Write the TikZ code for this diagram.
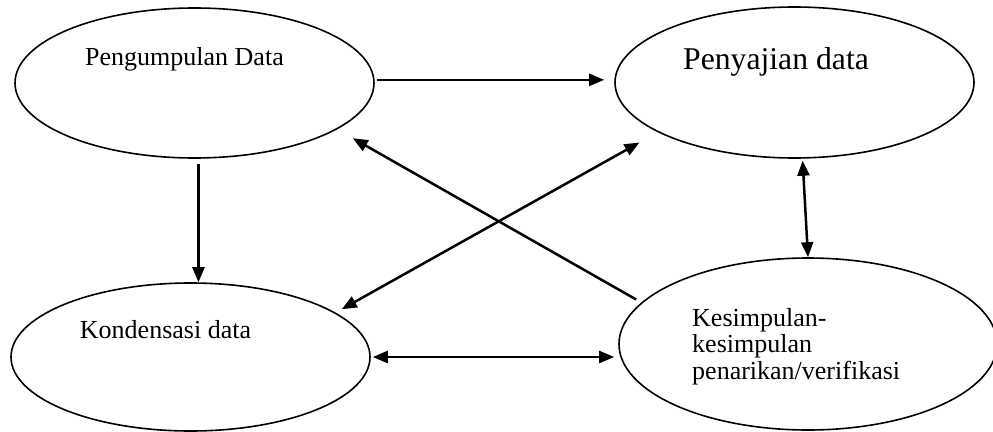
\documentclass[tikz,border=0pt]{standalone}
\usepackage{fontspec}
\setmainfont{Liberation Serif}
\usetikzlibrary{shapes.geometric,arrows.meta,calc}
\begin{document}
\begin{tikzpicture}[x=1pt,y=-1pt,
  bubble/.style={draw,ellipse,line width=1.6pt,inner sep=0pt},
  lbl/.style={inner sep=0pt,font=\fontsize{26}{26.5}\selectfont},
  conn/.style={line width=2.5pt,-{Triangle[length=15pt,width=12pt]}},
  dconn/.style={line width=2.5pt,{Triangle[length=15pt,width=12pt]}-{Triangle[length=15pt,width=12pt]}}]
\useasboundingbox (0,0) rectangle (993,431);
\node[bubble,minimum width=359pt,minimum height=150pt] (tl) at (194.5,83) {};
\node[bubble,minimum width=359pt,minimum height=151pt] (tr) at (794.5,82.5) {};
\node[bubble,minimum width=359pt,minimum height=148pt] (bl) at (190.5,357) {};
\node[bubble,minimum width=378pt,minimum height=172pt] (br) at (808,344) {};
\node[lbl,anchor=base] (tlt) at (184.5,65) {Pengumpulan Data};
\node[lbl,anchor=base,font=\fontsize{31.7}{34}\selectfont] (trt) at (776,69) {Penyajian data};
\node[lbl,anchor=base] (blt) at (165.5,338) {Kondensasi data};
\node[lbl,anchor=base west,align=left] (brt) at (692,379) {Kesimpulan-\\kesimpulan\\penarikan/verifikasi};
\draw[conn,shorten <=2pt,shorten >=10pt] (tl.1) -- (tl.1 -| tr.west);
\draw[conn,shorten <=5pt] (tl.-87) -- (tl.-87 |- bl.north);
\draw[conn,shorten <=6pt,shorten >=18pt] (br.166) -- (tl.-18);
\draw[dconn,shorten <=7pt,shorten >=21pt] (bl.17.5) -- (tr.200);
\draw[dconn,shorten <=2pt] (tr.-84) -- (br.north);
\draw[dconn,shorten <=2pt,shorten >=4pt] (bl.east) -- (bl.east -| br.west);
\end{tikzpicture}
\end{document}
